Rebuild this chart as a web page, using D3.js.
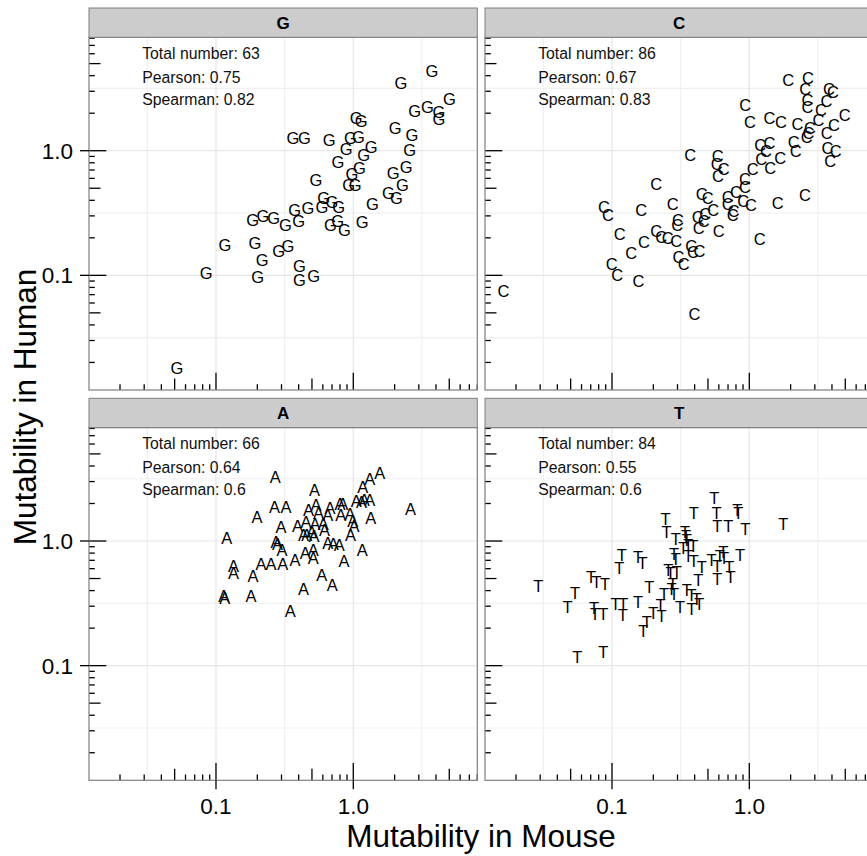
<!DOCTYPE html>
<meta charset="utf-8">
<style>
body { margin: 0; background: #fff; }
svg text { font-family: "Liberation Sans", Arial, Helvetica, sans-serif; }
</style>
<script src="https://d3js.org/d3.v7.min.js"></script>
<div id="chart"></div>
<script>

// facet labels and the stats printed in each panel
var panels = ["G", "C", "A", "T"];
var totals = [63, 86, 66, 84];
var pearson = ["0.75", "0.67", "0.64", "0.55"];
var spearman = ["0.82", "0.83", "0.6", "0.6"];

// axis breaks
var tickVals = [0.1, 1];
var tickLabels = ["0.1", "1.0"];
var minorVals = [0.0316, 0.316, 3.16];

// mutability in mouse (x) and human (y)
var gMouse = [3.74, 2.22, 5.02, 2.80, 3.47, 4.21, 4.21, 1.05, 1.14, 2.02, 2.67, 0.364, 0.440, 0.668, 0.951,
  1.09, 1.35, 0.889, 2.57, 1.19, 0.773, 1.11, 2.43, 1.95, 0.978, 0.535, 0.925, 1.03, 2.28, 1.80, 2.06,
  1.38, 0.608, 0.700, 0.592, 0.782, 0.374, 0.468, 0.185, 0.220, 0.263, 0.320, 0.400, 0.681, 0.769, 0.860,
  1.16, 0.116, 0.192, 0.286, 0.334, 0.217, 0.085, 0.201, 0.406, 0.406, 0.514, 0.052];
var gHuman = [4.37, 3.52, 2.62, 2.09, 2.26, 2.05, 1.81, 1.82, 1.74, 1.52, 1.33, 1.26, 1.26, 1.22, 1.26,
  1.28, 1.06, 1.03, 1.01, 0.923, 0.807, 0.727, 0.736, 0.659, 0.651, 0.582, 0.531, 0.535, 0.531, 0.458, 0.418,
  0.370, 0.415, 0.386, 0.352, 0.356, 0.335, 0.348, 0.279, 0.298, 0.289, 0.254, 0.275, 0.251, 0.275, 0.232,
  0.267, 0.176, 0.183, 0.156, 0.172, 0.132, 0.104, 0.097, 0.119, 0.091, 0.099, 0.0179];

var cMouse = [1.92, 2.68, 2.55, 3.81, 4.07, 2.65, 3.65, 2.65, 3.32, 0.935, 1.01, 1.40, 1.70, 2.24, 3.19,
  4.95, 4.14, 2.77, 2.70, 2.62, 3.67, 1.20, 1.40, 2.11, 2.18, 1.32, 1.22, 1.68, 1.42, 1.06, 3.71, 4.26,
  3.88, 0.371, 0.589, 0.579, 0.651, 0.592, 0.210, 0.930, 0.930, 0.800, 0.696, 0.696, 0.451, 0.498, 0.277,
  1.61, 2.54, 0.904, 1.03, 0.769, 0.757, 0.0875, 0.0935, 0.163, 0.545, 0.477, 0.421, 0.466, 0.302, 0.298,
  0.428, 0.599, 0.114, 0.210, 0.228, 0.255, 0.293, 0.171, 0.138, 1.19, 0.377, 0.388, 0.433, 0.305, 0.333,
  0.0995, 0.109, 0.156, 0.0162, 0.398];
var cHuman = [3.68, 3.86, 3.11, 3.11, 2.96, 2.56, 2.48, 2.22, 2.12, 2.32, 1.70, 1.83, 1.70, 1.63, 1.77,
  1.93, 1.60, 1.52, 1.39, 1.28, 1.39, 1.12, 1.16, 1.17, 1.00, 0.99, 0.858, 0.874, 0.727, 0.714, 1.05, 1.00,
  0.832, 0.918, 0.906, 0.782, 0.714, 0.631, 0.538, 0.593, 0.509, 0.470, 0.423, 0.375, 0.445, 0.418, 0.375,
  0.381, 0.442, 0.398, 0.363, 0.327, 0.302, 0.352, 0.302, 0.331, 0.335, 0.311, 0.293, 0.272, 0.279, 0.253,
  0.239, 0.226, 0.216, 0.226, 0.203, 0.199, 0.188, 0.185, 0.151, 0.194, 0.172, 0.154, 0.157, 0.140, 0.124,
  0.123, 0.101, 0.0895, 0.0749, 0.0488];

var aMouse = [0.270, 0.521, 1.56, 1.32, 1.17, 0.267, 0.324, 0.199, 0.471, 0.536, 0.557, 0.651, 0.677, 0.800,
  0.837, 0.809, 0.946, 1.05, 1.15, 1.20, 1.32, 1.34, 2.61, 0.297, 0.392, 0.453, 0.527, 0.605, 0.616, 0.989,
  1.01, 0.120, 0.274, 0.281, 0.302, 0.458, 0.498, 0.518, 0.433, 0.651, 0.716, 0.791, 0.956, 1.16, 0.134,
  0.134, 0.213, 0.252, 0.307, 0.377, 0.446, 0.512, 0.512, 0.855, 0.186, 0.589, 0.704, 0.433, 0.114, 0.116,
  0.180, 0.347];
var aHuman = [3.24, 2.57, 3.49, 3.14, 2.73, 1.87, 1.87, 1.55, 1.78, 1.93, 1.68, 1.63, 1.83, 1.99, 1.99,
  1.63, 1.65, 2.08, 2.05, 2.14, 2.14, 1.53, 1.81, 1.29, 1.31, 1.42, 1.36, 1.37, 1.22, 1.44, 1.33, 1.06,
  0.98, 0.94, 0.843, 1.11, 1.18, 1.09, 1.11, 0.964, 0.952, 0.935, 1.11, 0.853, 0.628, 0.549, 0.659, 0.659,
  0.659, 0.701, 0.802, 0.853, 0.732, 0.692, 0.523, 0.532, 0.443, 0.409, 0.362, 0.347, 0.362, 0.276];

var tMouse = [0.556, 0.395, 0.578, 0.585, 0.818, 0.832, 0.703, 0.935, 1.77, 0.246, 0.250, 0.291, 0.340,
  0.346, 0.350, 0.360, 0.391, 0.331, 0.118, 0.113, 0.155, 0.167, 0.283, 0.292, 0.360, 0.395, 0.450, 0.532,
  0.585, 0.647, 0.654, 0.611, 0.855, 0.715, 0.731, 0.585, 0.257, 0.267, 0.296, 0.425, 0.0291, 0.0538,
  0.0475, 0.0703, 0.0773, 0.0889, 0.187, 0.277, 0.272, 0.283, 0.239, 0.350, 0.380, 0.414, 0.0740, 0.0752,
  0.0865, 0.106, 0.121, 0.120, 0.155, 0.226, 0.230, 0.200, 0.179, 0.169, 0.313, 0.380, 0.432, 0.0559, 0.0865];
var tHuman = [2.21, 1.69, 1.67, 1.32, 1.76, 1.67, 1.31, 1.24, 1.37, 1.50, 1.19, 1.03, 1.17, 1.10, 1.02,
  0.929, 0.911, 0.873, 0.771, 0.602, 0.748, 0.661, 0.786, 0.711, 0.757, 0.694, 0.621, 0.703, 0.629, 0.820,
  0.725, 0.757, 0.771, 0.613, 0.509, 0.491, 0.584, 0.549, 0.562, 0.485, 0.434, 0.383, 0.295, 0.516, 0.470,
  0.450, 0.428, 0.450, 0.408, 0.378, 0.378, 0.403, 0.367, 0.339, 0.292, 0.258, 0.261, 0.314, 0.310, 0.253,
  0.324, 0.305, 0.248, 0.264, 0.224, 0.189, 0.295, 0.286, 0.314, 0.118, 0.128];

var mouseByPanel = [gMouse, cMouse, aMouse, tMouse];
var humanByPanel = [gHuman, cHuman, aHuman, tHuman];

// layout of the 2x2 facet grid
var W = 867, H = 856;
var panelW = 388.3, panelH = 352.7, stripH = 29.3;
var colX = [89, 485];
var rowY = [8, 398.3];

var svg = d3.select("#chart")
  .append("svg")
    .attr("width", W)
    .attr("height", H);

svg.append("rect").attr("width", W).attr("height", H).attr("fill", "#fff");

// shared log scales (same limits on both axes, as ggplot expanded them)
var x = d3.scaleLog().domain([0.01189, 8.0]).range([0, panelW]);
var y = d3.scaleLog().domain([0.01202, 8.13]).range([panelH, 0]);

// positions of the annotation_logticks marks
var logTicks = [];
[-2, -1, 0].forEach(function(p) {
  for (var k = 1; k <= 9; k++) logTicks.push({v: k * Math.pow(10, p), k: k});
});
function tickLen(k) { return k == 1 ? 17.3 : (k == 5 ? 11.5 : 5.8); }

panels.forEach(function(name, i) {
  var col = i % 2, row = Math.floor(i / 2);
  var g = svg.append("g")
    .attr("transform", "translate(" + colX[col] + "," + (rowY[row] + stripH) + ")");

  // strip
  svg.append("rect")
    .attr("x", colX[col]).attr("y", rowY[row])
    .attr("width", panelW).attr("height", stripH)
    .attr("fill", "#cccccc").attr("stroke", "#7f7f7f").attr("stroke-width", 1);
  svg.append("text")
    .attr("x", colX[col] + panelW / 2).attr("y", rowY[row] + stripH / 2)
    .attr("dy", "0.36em")
    .attr("text-anchor", "middle")
    .style("font-size", "17px").style("font-weight", "bold")
    .text(name);

  // grid
  g.selectAll(".vminor").data(minorVals).enter().append("line")
    .attr("x1", function(d) { return x(d); }).attr("x2", function(d) { return x(d); })
    .attr("y1", 0).attr("y2", panelH)
    .attr("stroke", "#f0f0f0").attr("stroke-width", 1.2);
  g.selectAll(".hminor").data(minorVals).enter().append("line")
    .attr("y1", function(d) { return y(d); }).attr("y2", function(d) { return y(d); })
    .attr("x1", 0).attr("x2", panelW)
    .attr("stroke", "#f0f0f0").attr("stroke-width", 1.2);
  g.selectAll(".vmajor").data(tickVals).enter().append("line")
    .attr("x1", function(d) { return x(d); }).attr("x2", function(d) { return x(d); })
    .attr("y1", 0).attr("y2", panelH)
    .attr("stroke", "#e6e6e6").attr("stroke-width", 1.2);
  g.selectAll(".hmajor").data(tickVals).enter().append("line")
    .attr("y1", function(d) { return y(d); }).attr("y2", function(d) { return y(d); })
    .attr("x1", 0).attr("x2", panelW)
    .attr("stroke", "#e6e6e6").attr("stroke-width", 1.2);

  // stats text
  var lines = ["Total number: " + totals[i], "Pearson: " + pearson[i], "Spearman: " + spearman[i]];
  g.selectAll(".stat").data(lines).enter().append("text")
    .attr("x", x(0.029))
    .attr("y", function(d, j) { return y([6.1, 3.9, 2.6][j]); })
    .attr("dy", "0.36em")
    .style("font-size", "15.8px")
    .attr("fill", "#111")
    .text(function(d) { return d; });

  // letters
  var pts = mouseByPanel[i].map(function(m, j) { return {m: m, h: humanByPanel[i][j]}; });
  var clip = "clip" + i;
  g.append("clipPath").attr("id", clip).append("rect")
    .attr("width", panelW).attr("height", panelH);
  g.append("g").attr("clip-path", "url(#" + clip + ")")
    .selectAll("text").data(pts).enter().append("text")
      .attr("x", function(d) { return x(d.m); })
      .attr("y", function(d) { return y(d.h); })
      .attr("dy", "0.36em")
      .attr("text-anchor", "middle")
      .style("font-size", "16.5px")
      .attr("fill", "#000")
      .text(name);

  // log ticks on bottom and left
  var xt = logTicks.filter(function(d) { return d.v >= x.domain()[0] && d.v <= x.domain()[1]; });
  var yt = logTicks.filter(function(d) { return d.v >= y.domain()[0] && d.v <= y.domain()[1]; });
  g.selectAll(".lbx").data(xt).enter().append("line")
    .attr("x1", function(d) { return x(d.v); }).attr("x2", function(d) { return x(d.v); })
    .attr("y1", panelH).attr("y2", function(d) { return panelH - tickLen(d.k); })
    .attr("stroke", "#000").attr("stroke-width", 1.3);
  g.selectAll(".lby").data(yt).enter().append("line")
    .attr("y1", function(d) { return y(d.v); }).attr("y2", function(d) { return y(d.v); })
    .attr("x1", 0).attr("x2", function(d) { return tickLen(d.k); })
    .attr("stroke", "#000").attr("stroke-width", 1.3);

  // border
  g.append("rect").attr("width", panelW).attr("height", panelH)
    .attr("fill", "none").attr("stroke", "#7f7f7f").attr("stroke-width", 1.2);

  // y axis on the left column
  if (col == 0) {
    var ya = g.append("g");
    ya.selectAll("line").data(tickVals).enter().append("line")
      .attr("x1", -9).attr("x2", 0)
      .attr("y1", function(d) { return y(d); }).attr("y2", function(d) { return y(d); })
      .attr("stroke", "#000").attr("stroke-width", 1.3);
    ya.selectAll("text").data(tickVals).enter().append("text")
      .attr("x", -16).attr("y", function(d) { return y(d); })
      .attr("dy", "0.36em").attr("text-anchor", "end")
      .style("font-size", "22.5px")
      .text(function(d, j) { return tickLabels[j]; });
  }
  // x axis on the bottom row
  if (row == 1) {
    var xa = g.append("g");
    xa.selectAll("line").data(tickVals).enter().append("line")
      .attr("y1", panelH).attr("y2", panelH + 9)
      .attr("x1", function(d) { return x(d); }).attr("x2", function(d) { return x(d); })
      .attr("stroke", "#000").attr("stroke-width", 1.3);
    xa.selectAll("text").data(tickVals).enter().append("text")
      .attr("y", panelH + 33.5).attr("x", function(d) { return x(d); })
      .attr("text-anchor", "middle")
      .style("font-size", "22.5px")
      .text(function(d, j) { return tickLabels[j]; });
  }
});

// axis titles
svg.append("text")
  .attr("x", 481).attr("y", 847)
  .attr("text-anchor", "middle")
  .style("font-size", "31.5px")
  .text("Mutability in Mouse");
svg.append("text")
  .attr("transform", "translate(36,407) rotate(-90)")
  .attr("text-anchor", "middle")
  .style("font-size", "31.5px")
  .text("Mutability in Human");

</script>
